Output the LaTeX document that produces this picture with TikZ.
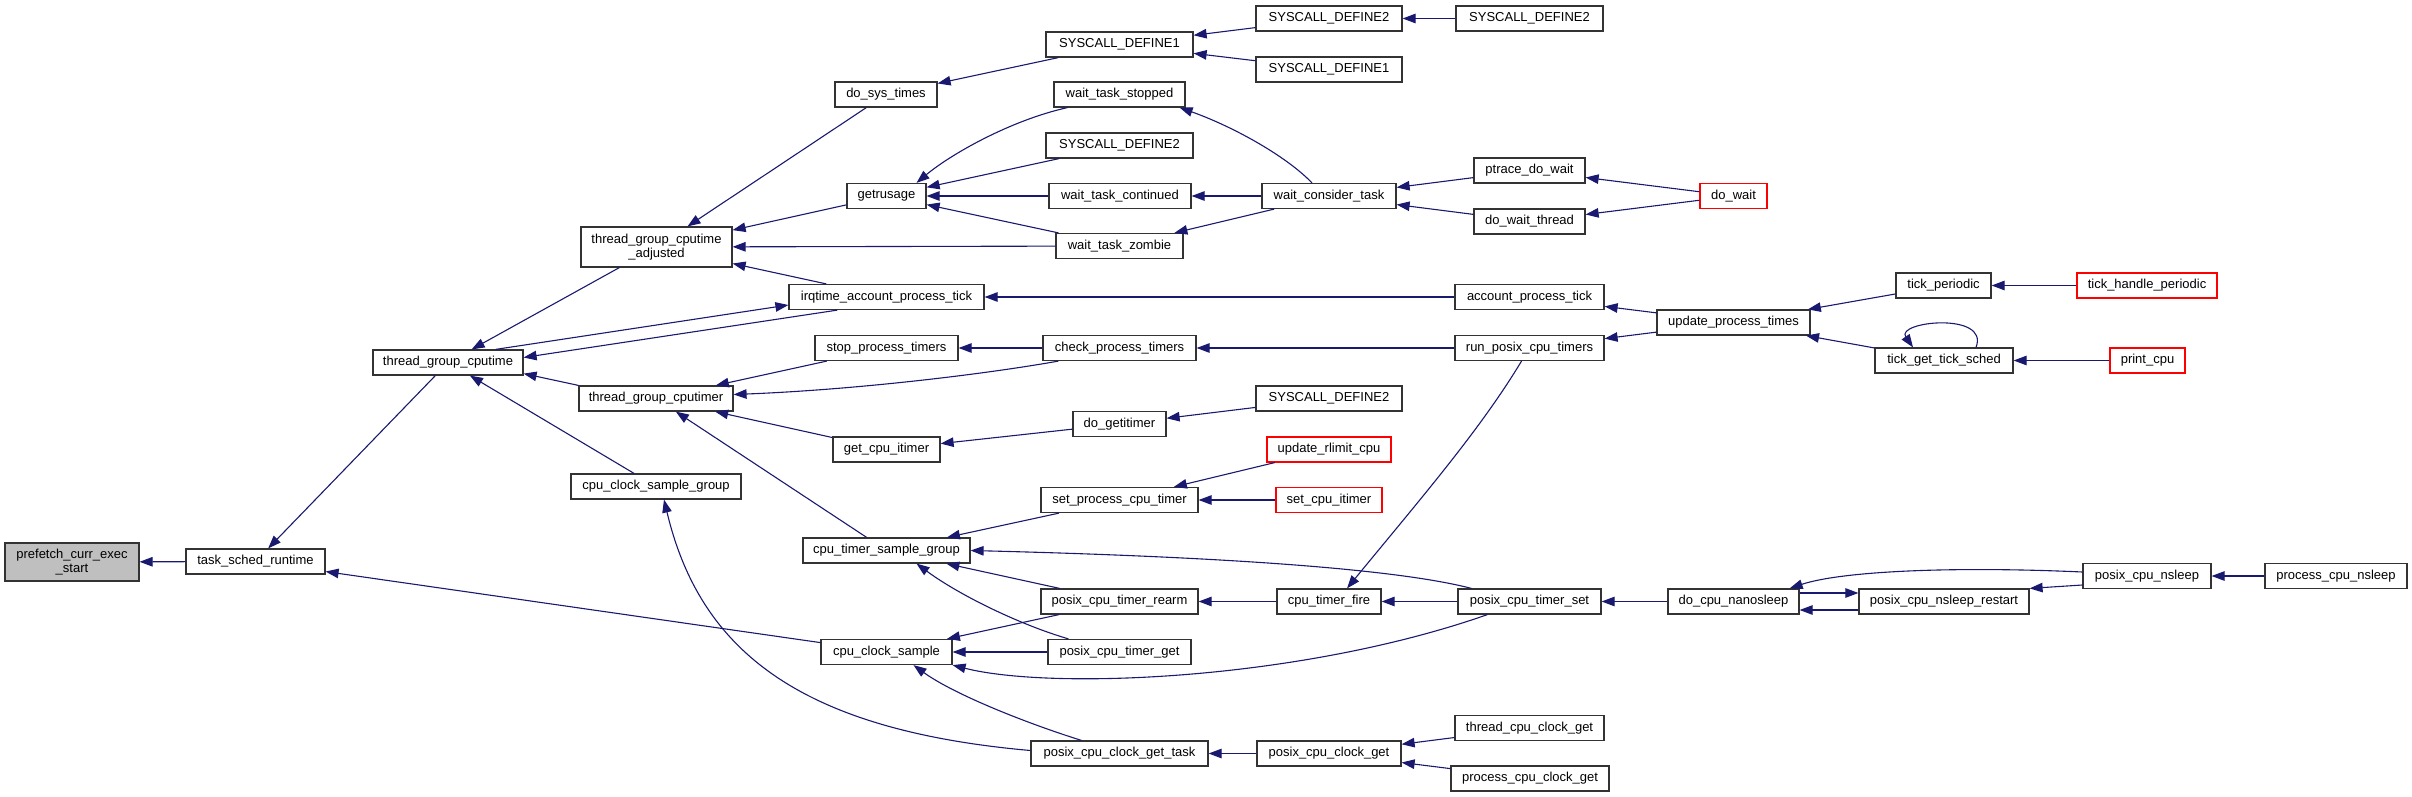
\documentclass[tikz,border=0pt]{standalone}
\usepackage{fontspec}
\setmainfont{Liberation Sans}
\usetikzlibrary{arrows.meta,calc}
\definecolor{edgec}{HTML}{191970}
\definecolor{boxc}{HTML}{333333}
\tikzset{
 nb/.style={draw=boxc, line width=1.2pt, fill=white, inner sep=0pt, minimum height=25pt, font=\fontsize{13}{14.5}\selectfont, align=center},
 rb/.style={nb, draw=red},
 ed/.style={draw=edgec, line width=1.1pt, {Triangle[length=13pt,width=9.5pt]}-},
}
\begin{document}
\begin{tikzpicture}[x=1pt,y=-1pt]
\path[use as bounding box] (0,0) rectangle (2412,797);
% column 1-2
\node[nb,minimum width=134pt,minimum height=38pt,fill=gray!50] (pf) at (72,562) {prefetch\_curr\_exec\\\_start};
\node[nb,minimum width=139pt] (tsr) at (255.5,561.5) {task\_sched\_runtime};
\node[nb,minimum width=150pt] (tgc) at (448,362.5) {thread\_group\_cputime};
% column 3
\node[nb,minimum width=151pt,minimum height=40pt] (tgca) at (656.5,247) {thread\_group\_cputime\\\_adjusted};
\node[nb,minimum width=154pt] (tgcr) at (656,398.5) {thread\_group\_cputimer};
\node[nb,minimum width=170pt] (ccsg) at (656,486.5) {cpu\_clock\_sample\_group};
% column 4
\node[nb,minimum width=102pt] (dst) at (886,94.5) {do\_sys\_times};
\node[nb,minimum width=79pt] (gru) at (886.5,196) {getrusage};
\node[nb,minimum width=195pt] (irq) at (886.5,297) {irqtime\_account\_process\_tick};
\node[nb,minimum width=143pt] (spt) at (886.5,348) {stop\_process\_timers};
\node[nb,minimum width=107pt] (gci) at (886.5,449.5) {get\_cpu\_itimer};
\node[nb,minimum width=167pt] (ctsg) at (886.5,550.5) {cpu\_timer\_sample\_group};
\node[nb,minimum width=131pt] (ccs) at (886.5,652) {cpu\_clock\_sample};
% column 5
\node[nb,minimum width=147pt] (SD1a) at (1119.5,44.5) {SYSCALL\_DEFINE1};
\node[nb,minimum width=131pt] (wts) at (1119.5,94.5) {wait\_task\_stopped};
\node[nb,minimum width=147pt] (SD2a) at (1119.5,145.5) {SYSCALL\_DEFINE2};
\node[nb,minimum width=142pt] (wtc) at (1120,196) {wait\_task\_continued};
\node[nb,minimum width=127pt] (wtz) at (1119.5,246) {wait\_task\_zombie};
\node[nb,minimum width=153pt] (cpt) at (1119.5,348) {check\_process\_timers};
\node[nb,minimum width=93pt] (dgi) at (1119.5,424) {do\_getitimer};
\node[nb,minimum width=157pt] (spct) at (1119.5,500) {set\_process\_cpu\_timer};
\node[nb,minimum width=157pt] (pctr) at (1119.5,601.5) {posix\_cpu\_timer\_rearm};
\node[nb,minimum width=143pt] (pctg) at (1119.5,652) {posix\_cpu\_timer\_get};
\node[nb,minimum width=177pt] (pcgt) at (1119.5,753.5) {posix\_cpu\_clock\_get\_task};
% column 6
\node[nb,minimum width=146pt] (SD2b) at (1329,18.5) {SYSCALL\_DEFINE2};
\node[nb,minimum width=146pt] (SD1b) at (1329,69.5) {SYSCALL\_DEFINE1};
\node[nb,minimum width=134pt] (wct) at (1329,196) {wait\_consider\_task};
\node[nb,minimum width=146pt] (SD2c) at (1329,398.5) {SYSCALL\_DEFINE2};
\node[rb,minimum width=124pt] (urc) at (1329,449.5) {update\_rlimit\_cpu};
\node[rb,minimum width=106pt] (sci) at (1329,500) {set\_cpu\_itimer};
\node[nb,minimum width=104pt] (ctf) at (1329,601.5) {cpu\_timer\_fire};
\node[nb,minimum width=144pt] (pccg) at (1329,753.5) {posix\_cpu\_clock\_get};
% column 7
\node[nb,minimum width=147pt] (SD2d) at (1529.5,18.5) {SYSCALL\_DEFINE2};
\node[nb,minimum width=111pt] (pdw) at (1529.5,170.5) {ptrace\_do\_wait};
\node[nb,minimum width=111pt] (dwt) at (1529.5,221.5) {do\_wait\_thread};
\node[nb,minimum width=149pt] (apt) at (1529.5,297) {account\_process\_tick};
\node[nb,minimum width=149pt] (rpct) at (1529.5,348) {run\_posix\_cpu\_timers};
\node[nb,minimum width=143pt] (pcts) at (1529.5,601.5) {posix\_cpu\_timer\_set};
\node[nb,minimum width=149pt] (tccg) at (1529.5,728) {thread\_cpu\_clock\_get};
\node[nb,minimum width=158pt] (pccgp) at (1530,778.5) {process\_cpu\_clock\_get};
% column 8
\node[rb,minimum width=67pt] (dw) at (1733.5,196) {do\_wait};
\node[nb,minimum width=153pt] (upt) at (1733.5,322.5) {update\_process\_times};
\node[nb,minimum width=131pt] (dcn) at (1733.5,601.5) {do\_cpu\_nanosleep};
% column 9
\node[nb,minimum width=95pt] (tp) at (1943.5,285.5) {tick\_periodic};
\node[nb,minimum width=138pt] (tgts) at (1944,360.5) {tick\_get\_tick\_sched};
\node[nb,minimum width=170pt] (pcnr) at (1944,601.5) {posix\_cpu\_nsleep\_restart};
% column 10
\node[rb,minimum width=140pt] (thp) at (2147,285.5) {tick\_handle\_periodic};
\node[rb,minimum width=75pt] (pc) at (2147.5,360.5) {print\_cpu};
\node[nb,minimum width=128pt] (pcn) at (2147,576) {posix\_cpu\_nsleep};
% column 11
\node[nb,minimum width=142pt] (pcns) at (2336,576) {process\_cpu\_nsleep};

% edges
\draw[ed] (pf) -- (tsr);
\draw[ed] (tsr) -- (tgc);
\draw[ed] (tsr) -- (ccs);
\draw[ed] (tgc) -- (tgca);
\draw[ed] ($(irq.west)+(0,8)$) -- ($(tgc.north east)+(-28,0)$);
\draw[ed] ($(tgc.east)+(0,-5)$) -- ($(irq.south west)+(49,0)$);
\draw[ed] ($(tgc.south east)+(0,-2)$) -- (tgcr.north west);
\draw[ed] (tgc) -- (ccsg);
\draw[ed] (tgca) -- (dst);
\draw[ed] (tgca) -- (gru);
\draw[ed] (tgca) -- (wtz);
\draw[ed] (tgca) -- (irq);
\draw[ed] (dst) -- (SD1a);
\draw[ed] ($(gru.north)+(30,0)$) .. controls +(33.5,-28) and +(-58,13) .. ($(wts.south west)+(14,0)$);
\draw[ed] (gru) -- (SD2a);
\draw[ed] (gru) -- (wtc);
\draw[ed] (gru) -- (wtz);
\draw[ed] (SD1a) -- (SD2b);
\draw[ed] (SD1a) -- (SD1b);
\draw[ed] (SD2b) -- (SD2d);
\draw[ed] ($(wts.south east)+(-6,0)$) .. controls +(51,18) and +(-27,-28) .. ($(wct.north)+(-17,0)$);
\draw[ed] (wtc) -- (wct);
\draw[ed] (wtz) -- (wct);
\draw[ed] (wct) -- (pdw);
\draw[ed] (wct) -- (dwt);
\draw[ed] (pdw) -- (dw);
\draw[ed] (dwt) -- (dw);
\draw[ed] (irq) -- (apt);
\draw[ed] (apt) -- (upt);
\draw[ed] (upt) -- (tp);
\draw[ed] (upt) -- (tgts);
\draw[ed] (tp) -- (thp);
\draw[ed] ($(tgts.north)+(-31,0)$) .. controls +(-18,-26) and +(14,-36) .. ($(tgts.north)+(32,0)$);
\draw[ed] (tgts) -- (pc);
\draw[ed] (rpct) -- (upt);
\draw[ed] (cpt) -- (rpct);
\draw[ed] (spt) -- (cpt);
\draw[ed] (tgcr) -- (spt);
\draw[ed] ($(tgcr.east)+(0,-4)$) .. controls +(117,-4.5) and +(-79,14) .. ($(cpt.south west)+(16,0)$);
\draw[ed] (tgcr) -- (gci);
\draw[ed] (tgcr) -- (ctsg);
\draw[ed] (gci) -- (dgi);
\draw[ed] (dgi) -- (SD2c);
\draw[ed] ($(ccsg.south)+(8,0)$) .. controls +(36,151) and +(-231,-20.5) .. ($(pcgt.west)+(0,-3)$);
\draw[ed] (ctsg) -- (spct);
\draw[ed] (ctsg.east) .. controls +(180,4.5) and +(-92,-24) .. ($(pcts.north west)+(14,0)$);
\draw[ed] (ctsg) -- (pctr);
\draw[ed] ($(ctsg.south)+(30,0)$) .. controls +(43.5,32) and +(-48,-14) .. ($(pctg.north)+(-51,0)$);
\draw[ed] (spct) -- (urc);
\draw[ed] (spct) -- (sci);
\draw[ed] (pctr) -- (ctf);
\draw[ed] (ccs) -- (pctr);
\draw[ed] (ccs) -- (pctg);
\draw[ed] (ccs.south east) .. controls +(98,25) and +(-188,66) .. ($(pcts.south west)+(30,0)$);
\draw[ed] ($(ccs.south)+(27,0)$) .. controls +(41.5,30) and +(-51.5,-16) .. ($(pcgt.north)+(-38,0)$);
\draw[ed] (pcgt) -- (pccg);
\draw[ed] (ctf) -- (pcts);
\draw[ed] ($(ctf.north)+(18,0)$) .. controls +(73,-89) and +(-41.5,69) .. ($(rpct.south)+(-8,0)$);
\draw[ed] (pcts) -- (dcn);
\draw[ed] ($(dcn.east)+(0,8.5)$) -- ($(pcnr.west)+(0,8.5)$);
\draw[ed] ($(pcnr.west)+(0,-8.5)$) -- ($(dcn.east)+(0,-8.5)$);
\draw[ed] ($(dcn.north east)+(-10,0)$) .. controls +(51,-17) and +(-133,-6) .. ($(pcn.west)+(0,-4)$);
\draw[ed] (pcnr.north east) -- ($(pcn.west)+(0,9)$);
\draw[ed] (pcn) -- (pcns);
\draw[ed] (pccg) -- (tccg);
\draw[ed] (pccg) -- (pccgp);
\end{tikzpicture}
\end{document}
